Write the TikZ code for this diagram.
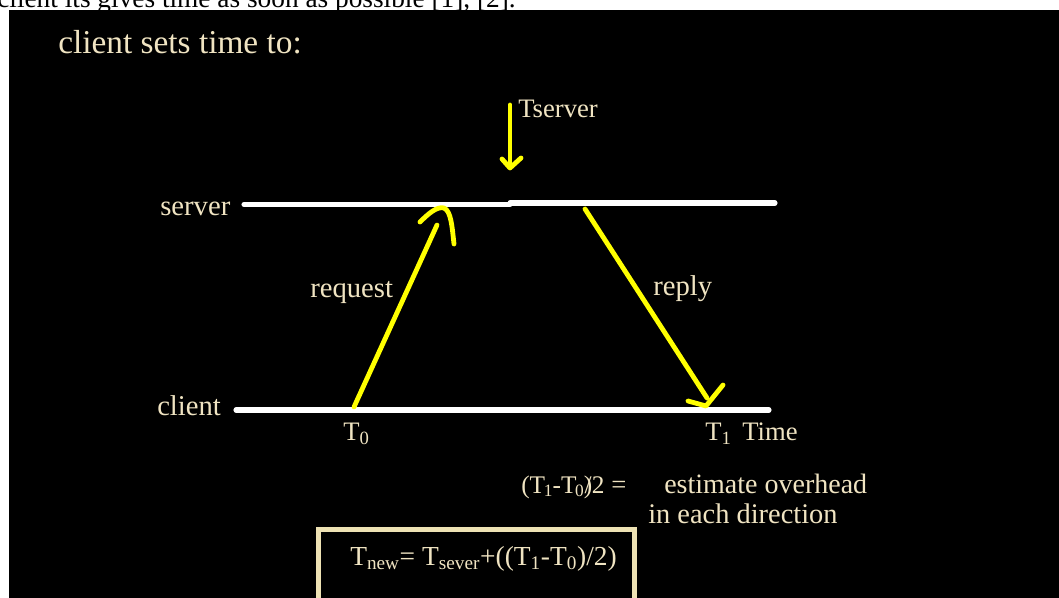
\documentclass[tikz,border=0pt]{standalone}
\usepackage{fontspec}
\setmainfont{Liberation Serif}
\definecolor{cream}{HTML}{F0E4C2}
\definecolor{boxc}{HTML}{EEE2B4}
\definecolor{yel}{HTML}{FFFF00}
\newcommand{\lowsub}[1]{\raisebox{-0.12em}{\fontsize{13}{13}\selectfont #1}}
\begin{document}
\begin{tikzpicture}[x=0.75pt,y=-0.75pt,
  lbl/.style={text=cream,inner sep=0,anchor=base west,font=\fontsize{21.5}{24}\selectfont},
  small/.style={lbl,font=\fontsize{20}{24}\selectfont},
  axis/.style={white,line width=3.8pt,line cap=round},
  msg/.style={yel,line width=3.6pt,line cap=round,line join=round},
]
\useasboundingbox (0,0) rectangle (1059,598);
\clip (0,0) rectangle (1059,598);
\node[inner sep=0,anchor=base west,font=\fontsize{20.5}{24}\selectfont] (caption) at (-3,8) {client its gives time as soon as possible [1], [2].};
\fill[black] (9,10) rectangle (1059,598);

% texts
\node[lbl,font=\fontsize{25}{28}\selectfont] (title) at (58,54) {client sets time to:};
\node[small] (tserver) at (518,118) {Tserver};
\node[lbl] (serverlbl) at (160,216) {server};
\node[lbl] (clientlbl) at (157,415.5) {client};
\node[lbl] (request) at (310,298) {request};
\node[lbl] (reply) at (653,296) {reply};
\node[small] (t0) at (343,440) {T\textsubscript{0}};
\node[small] (t1) at (705,440) {T\textsubscript{1}};
\node[small] (time) at (742,440) {Time};
\node[lbl,font=\fontsize{19}{24}\selectfont] (est) at (521,493) {(T\kern-.05em\lowsub{1}-T\kern-.05em\lowsub{0})\kern-.3em/2};
\node[small] (eq) at (611,493) {=};
\node[lbl,font=\fontsize{21}{24}\selectfont] (estt) at (664,493) {estimate overhead};
\node[lbl,font=\fontsize{21.3}{24}\selectfont] (dir) at (648,523) {in each direction};

% time lines
\coordinate (s1) at (244,204.5);
\coordinate (sm) at (510,204.5);
\coordinate (sm2) at (510,203);
\coordinate (s2) at (775,203);
\coordinate (c1) at (236,410);
\coordinate (c2) at (769,410);
\draw[axis] (s1) -- (sm);
\draw[axis,line cap=butt] (sm2) -- +(6,0);
\draw[axis] (sm2) -- (s2);
\draw[axis] (c1) -- (c2);

% Tserver arrow
\coordinate (ta) at (510,105);
\coordinate (tb) at (510,166);
\draw[msg] (ta) -- (tb);
\draw[msg] (502,159) -- (510,168) -- (521,158);

% request
\coordinate (ra) at (354,407);
\coordinate (rb) at (437,225);
\draw[msg] (ra) -- (rb);
\draw[msg] (420,222) .. controls (428,214) and (437,206) .. (444,208)
  .. controls (451,211) and (452,226) .. (454,244);

% reply
\coordinate (pa) at (585,209);
\coordinate (pb) at (707,398);
\draw[msg] (pa) -- (pb);
\draw[msg] (688,401) -- (706,406) -- (723,385);

% formula box
\node[draw=boxc,line width=3.8pt,anchor=north west,minimum width=237pt,minimum height=53pt,inner sep=0] (box) at (315.5,527) {};
\node[lbl,font=\fontsize{20.6}{24}\selectfont] (formula) at (350,565) {T\textsubscript{new}= T\textsubscript{sever}+((T\textsubscript{1}-T\textsubscript{0})/2)};
\end{tikzpicture}
\end{document}
